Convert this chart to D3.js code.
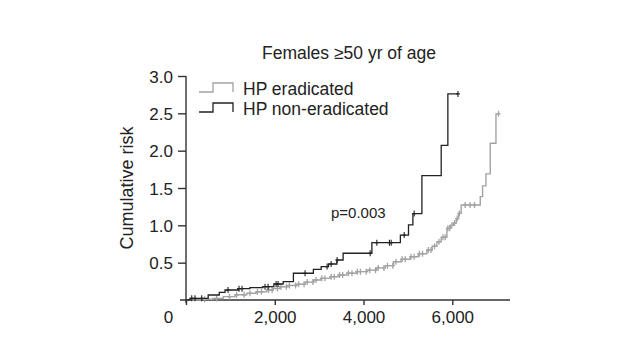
<!DOCTYPE html>
<html><head><meta charset="utf-8">
<script src="https://cdn.jsdelivr.net/npm/d3@7"></script>
<style>
html,body{margin:0;padding:0;background:#fff;}
svg text{font-family:"Liberation Sans",Arial,Helvetica,sans-serif;fill:#222;}
</style></head>
<body><svg id="c" width="640" height="360"></svg>
<script>
const title = "Females \u226550 yr of age";
const yLabel = "Cumulative risk";
const seriesNames = ["HP eradicated", "HP non-eradicated"];
const pText = "p=0.003";
const xTicks = [0, 2000, 4000, 6000];
const yTicks = [0.5, 1.0, 1.5, 2.0, 2.5, 3.0];

// HP eradicated (gray): step times and cumulative risk after step
const eradTime = [0,316,609,841,1105,1369,1578,1820,1962,2120,2300,2496,2683,2871,3044,3247,3428,3624,3834,4075,4285,4488,4675,4848,5051,5232,5428,5547,5653,5750,5879,5953,6028,6089,6140,6201,6630,6682,6758,6855,6984,7042];
const eradRisk = [0,0.01,0.02,0.045,0.07,0.09,0.11,0.134,0.155,0.178,0.195,0.21,0.24,0.268,0.29,0.312,0.335,0.358,0.38,0.40,0.43,0.46,0.513,0.545,0.58,0.62,0.67,0.72,0.78,0.84,0.96,1.00,1.03,1.09,1.16,1.273,1.385,1.528,1.689,2.10,2.493,2.493];
const eradCensor = [420,690,980,1140,1310,1440,1610,1700,1860,1940,2060,2140,2260,2330,2470,2540,2660,2730,2860,2930,3060,3130,3270,3340,3460,3530,3660,3740,3860,3930,4060,4140,4270,4330,4460,4540,4660,4730,4870,4940,5070,5140,5260,5330,5460,5520,5600,5700,5790,5840,5900,5940,5990,6050,6110,6160,6290,6400,6500,7042];

// HP non-eradicated (black)
const nonTime = [0,90,500,750,880,1180,1440,1730,1980,2190,2420,2870,3045,3210,3400,3540,4188,4830,5013,5112,5315,5750,5900,6127];
const nonRisk = [0,0.023,0.067,0.103,0.134,0.152,0.165,0.179,0.214,0.245,0.358,0.41,0.447,0.482,0.536,0.626,0.768,0.87,1.005,1.157,1.667,2.07,2.76,2.76];
const nonCensor = [129,203,354,947,1195,1263,1781,1849,2030,2075,2683,3179,3270,3405,4149,4300,4584,4623,4916,5141,6127];

const svg = d3.select("#c");
const x = d3.scaleLinear().domain([0, 6000]).range([186, 452.3]);
const y = d3.scaleLinear().domain([0, 3]).range([300, 76]);

// Title
svg.append("text").attr("x", 349).attr("y", 59).attr("text-anchor", "middle")
  .attr("font-size", 17.5).text(title);

// Y label
svg.append("text").attr("transform", "translate(133,188) rotate(-90)")
  .attr("text-anchor", "middle").attr("font-size", 18).text(yLabel);

// Axes
const gy = svg.append("g").attr("transform", `translate(${x(0)},0)`)
  .call(d3.axisLeft(y).tickValues(yTicks).tickSize(8).tickSizeOuter(0).tickPadding(5).tickFormat(d3.format(".1f")));
gy.select(".domain").attr("d", `M0,${y(0)+3}V${y(3)}`);
gy.selectAll("text").attr("font-size", 17).attr("font-family", "Liberation Sans, Arial, sans-serif").attr("fill", "#222").attr("dy", "0.36em");

const gx = svg.append("g").attr("transform", `translate(0,${y(0)})`)
  .call(d3.axisBottom(x).tickValues(xTicks).tickSize(5).tickSizeOuter(0).tickPadding(6).tickFormat(d3.format(",")));
gx.select(".domain").attr("d", `M${x(-135)},0H${x(7300)}`);
gx.selectAll("text").attr("font-size", 17).attr("font-family", "Liberation Sans, Arial, sans-serif").attr("fill", "#222")
  .attr("dx", d => d === 0 ? -18 : 0);
svg.selectAll(".domain, .tick line").attr("stroke", "#333").attr("stroke-width", 1.4);

// Curves
const line = d3.line().x(d => x(d[0])).y(d => y(d[1])).curve(d3.curveStepAfter);
const erad = eradTime.map((t, i) => [t, eradRisk[i]]);
const non = nonTime.map((t, i) => [t, nonRisk[i]]);
const gray = "#a3a3a3", black = "#222";

function riskAt(times, risks, t) {
  const i = d3.bisectRight(times, t) - 1;
  return risks[Math.max(0, i)];
}

svg.append("path").attr("d", line(erad)).attr("fill", "none").attr("stroke", gray).attr("stroke-width", 1.4);
svg.append("g").selectAll("path").data(eradCensor).join("path")
  .attr("d", t => { const cx = x(t), cy = y(riskAt(eradTime, eradRisk, t)); return `M${cx},${cy-3}V${cy+3}M${cx-2},${cy}H${cx+2}`; })
  .attr("stroke", gray).attr("stroke-width", 1.3);

svg.append("path").attr("d", line(non)).attr("fill", "none").attr("stroke", black).attr("stroke-width", 1.3);
svg.append("g").selectAll("path").data(nonCensor).join("path")
  .attr("d", t => { const cx = x(t), cy = y(riskAt(nonTime, nonRisk, t)); return `M${cx},${cy-3}V${cy+3}M${cx-2},${cy}H${cx+2}`; })
  .attr("stroke", black).attr("stroke-width", 1.1);

// p value
svg.append("text").attr("x", 331).attr("y", 218).attr("font-size", 15).text(pText);

// Legend
const leg = [{name: seriesNames[0], c: gray, yy: 92}, {name: seriesNames[1], c: black, yy: 112}];
leg.forEach(l => {
  svg.append("path").attr("d", `M199,${l.yy}H213V${l.yy-9}H233V${l.yy}`)
    .attr("fill", "none").attr("stroke", l.c).attr("stroke-width", 1.3);
  svg.append("text").attr("x", 243).attr("y", l.yy + 3).attr("font-size", 17.5).text(l.name);
});
</script></body></html>
